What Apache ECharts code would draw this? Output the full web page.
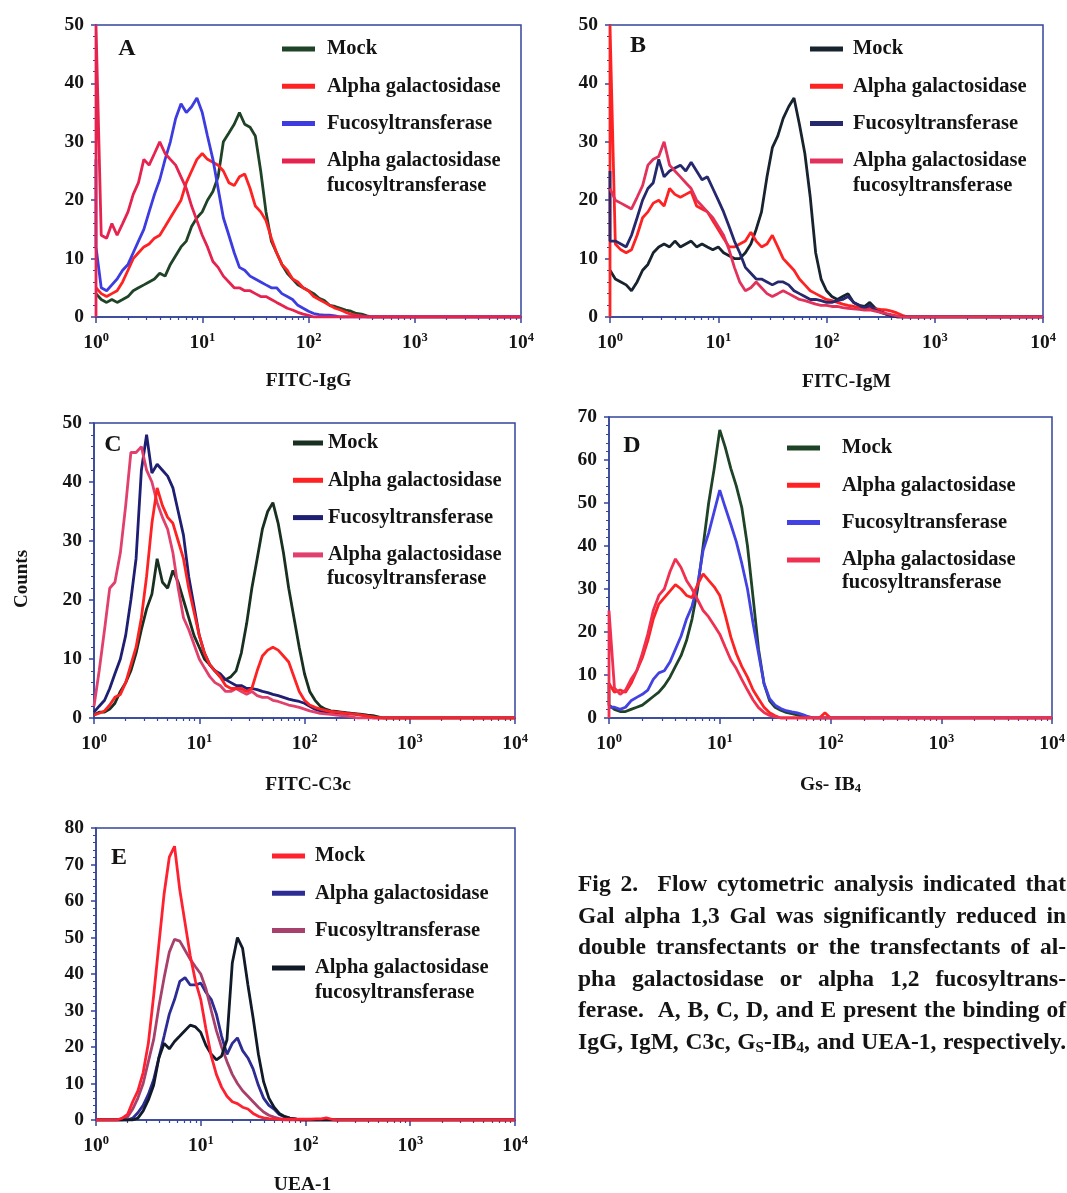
<!DOCTYPE html>
<html><head><meta charset="utf-8">
<script src="https://cdn.jsdelivr.net/npm/echarts@6/dist/echarts.min.js"></script>
<style>html,body{margin:0;padding:0;background:#fff}#chart{width:1067px;height:1193px}</style>
</head><body><div id="chart"></div>
<script>
// ---------- DATA ----------
// channel (fluorescence) positions, shared by all histograms; first entry repeated for the edge spike
const xChannels = [1,
  1, 1.12, 1.26, 1.41, 1.58, 1.78, 2, 2.24, 2.51, 2.82,
  3.16, 3.55, 3.98, 4.47, 5.01, 5.62, 6.31, 7.08, 7.94, 8.91,
  10, 11.2, 12.6, 14.1, 15.8, 17.8, 20, 22.4, 25.1, 28.2,
  31.6, 35.5, 39.8, 44.7, 50.1, 56.2, 63.1, 70.8, 79.4, 89.1,
  100, 112, 126, 141, 158, 178, 200, 224, 251, 282,
  316, 355, 398, 447, 501, 562,
  10000];
const xTickExponents = ['0', '1', '2', '3', '4'];
const legendLabels = ['Mock', 'Alpha galactosidase', 'Fucosyltransferase', 'Alpha galactosidase fucosyltransferase'];

// Panel A: FITC-IgG
const A_mock = [4,
  4, 3, 2.5, 3, 2.5, 3, 3.5, 4.5, 5, 5.5,
  6, 6.5, 7.5, 7, 9, 10.5, 12, 13, 15.5, 17,
  18, 20, 21.5, 24, 30, 31.5, 33, 35, 33, 32.5,
  31, 25, 18, 13, 11, 9, 7.5, 6.5, 5.5, 5,
  4.5, 4, 3.2, 2.8, 2, 1.8, 1.5, 1.2, 1, 0.6,
  0.5, 0.2, 0, 0, 0, 0,
  0];
const A_alpha = [5,
  5, 4, 3.5, 4, 4.5, 6, 8, 10, 11, 12,
  12.5, 13.5, 14, 15.5, 17, 18.5, 20, 23, 25, 27,
  28, 27, 26.5, 26, 25, 23, 22.5, 24, 24.5, 22,
  19, 18, 16.5, 13.5, 11, 9, 8, 6.5, 6, 5,
  4.5, 3.5, 3, 2.5, 2, 1.5, 1.2, 0.8, 0.5, 0.3,
  0.2, 0, 0, 0, 0, 0,
  0];
const A_fuco = [27,
  12, 5, 4.5, 5.5, 6.5, 8, 9, 11, 13, 15,
  18, 21, 23.5, 27, 30, 34, 36.5, 35, 36, 37.5,
  35, 31, 27, 22, 17, 14, 11, 8.5, 8, 7,
  6.5, 6, 5.5, 5, 5, 4, 3.5, 3, 2, 1.5,
  1, 0.6, 0.4, 0.3, 0.3, 0.2, 0, 0, 0, 0,
  0, 0, 0, 0, 0, 0,
  0];
const A_double = [0,
  50, 14, 13.5, 16, 14, 16, 18, 21, 23, 27,
  26, 28, 30, 28, 27, 26, 24, 22, 19, 16.5,
  14, 12, 9.5, 8.5, 7, 6, 5, 5, 4.5, 4.5,
  4, 3.5, 3.5, 3, 2.5, 2, 1.5, 1.2, 0.8, 0.5,
  0.3, 0, 0, 0, 0, 0, 0, 0, 0, 0,
  0, 0, 0, 0, 0, 0,
  0];

// Panel B: FITC-IgM
const B_mock = [8,
  8, 6.5, 6, 5.5, 4.5, 6, 8, 9, 11, 12,
  12.5, 12, 13, 12, 12.5, 13, 12, 12.5, 12, 11.5,
  12, 11, 10.5, 10, 10, 11, 12.5, 15, 18, 24,
  29, 31, 34, 36, 37.5, 33, 28, 20.5, 11, 6.5,
  4.5, 3.5, 3, 3.5, 4, 2.5, 2, 1.8, 2.5, 1.5,
  1, 0.5, 0.3, 0, 0, 0,
  0];
const B_alpha = [0,
  50, 12.5, 11.5, 11, 11.5, 14, 17, 18, 19.5, 20,
  19, 22, 21, 20.5, 21, 21.5, 19, 18.5, 18, 16.5,
  15, 13.5, 12, 12, 12.5, 13, 14.5, 13, 12, 12.5,
  14, 12, 10, 9, 8, 6.5, 5.5, 4.5, 4, 3.5,
  3, 2.8, 2.5, 2.2, 2, 1.8, 1.6, 1.5, 1.5, 1.4,
  1.3, 1.2, 1, 0.7, 0.3, 0,
  0];
const B_fuco = [25,
  13, 13, 12.5, 12, 14, 17, 20, 22, 23, 27,
  24, 25, 25.5, 26, 25, 26.5, 25, 23.5, 24, 22,
  20, 18, 15.5, 13, 11, 8.5, 7.5, 6.5, 6.5, 6,
  5.5, 6, 6, 5.5, 4.5, 4, 3.5, 3, 3, 2.8,
  2.5, 2.5, 2.8, 3, 3.5, 2.5, 2, 1.5, 2, 1.2,
  0.8, 0.5, 0.2, 0, 0, 0,
  0];
const B_double = [22,
  22, 20, 19.5, 19, 18.5, 20.5, 22.5, 26, 27, 27.5,
  30, 26, 25, 24, 23, 22, 20, 19, 18, 17,
  15.5, 14, 11.5, 8.5, 6, 4.5, 5, 6, 5, 4,
  3.5, 4, 4.5, 4, 3.5, 3, 2.8, 2.5, 2.2, 2,
  2, 1.8, 1.8, 1.6, 1.5, 1.4, 1.3, 1.2, 1.2, 1,
  0.8, 0.6, 0.4, 0.2, 0, 0,
  0];

// Panel C: FITC-C3c
const C_mock = [0.5,
  0.5, 1, 1, 1.5, 2.5, 4.5, 6, 8, 11, 15,
  18.5, 21, 27, 23, 22, 25, 23, 20, 17, 14,
  12, 10, 9, 8, 7, 6.5, 7, 8, 11, 16,
  22, 27, 32, 35, 36.5, 33, 28, 22, 17, 12,
  7.5, 4.5, 3, 2, 1.5, 1.2, 1.1, 1, 0.9, 0.8,
  0.7, 0.6, 0.5, 0.4, 0.2, 0,
  0];
const C_alpha = [0.5,
  0.5, 0.8, 1.2, 2.2, 3.5, 4, 6, 9, 12, 17,
  24, 33, 39, 36, 34, 33, 30, 27, 22, 18,
  14, 11, 9, 8, 7, 5.5, 5, 5, 5, 4.5,
  5, 8, 10.5, 11.5, 12, 11.5, 10.5, 9.5, 7, 4.5,
  3, 2.2, 1.8, 1.5, 1.3, 1.1, 1, 0.9, 0.8, 0.7,
  0.6, 0.5, 0.3, 0.2, 0, 0,
  0];
const C_fuco = [1,
  1, 2, 3, 5, 7.5, 10, 14, 20, 27, 42,
  48, 41.5, 43, 42, 41, 39, 35, 31, 24, 19,
  14, 11, 9, 8, 7.5, 6.5, 6, 5.5, 5.5, 5,
  5, 4.8, 4.5, 4.3, 4, 3.8, 3.5, 3.2, 3, 2.8,
  2.5, 2, 1.5, 1.2, 1, 1, 0.9, 0.8, 0.8, 0.7,
  0.6, 0.5, 0.3, 0, 0, 0,
  0];
const C_double = [2,
  2, 8, 15, 22, 23, 28, 36, 45, 45, 46,
  42, 40, 36.5, 34, 32, 28, 22, 17, 15, 12.5,
  10, 8.5, 7, 6, 5.5, 4.5, 4.5, 5, 4.5, 4,
  4.5, 3.8, 3.5, 3.5, 3, 2.8, 2.5, 2.2, 2, 1.8,
  1.5, 1.2, 1, 0.8, 0.7, 0.6, 0.5, 0.4, 0.3, 0.2,
  0, 0, 0, 0, 0, 0,
  0];

// Panel D: Gs-IB4
const D_mock = [8,
  3, 2, 1.5, 1.5, 2, 2.5, 3, 4, 5, 6,
  7.5, 9.5, 12, 14.5, 18, 23, 30, 40, 50, 58,
  67, 63, 58, 54, 49, 40, 28, 16, 8, 4,
  2.5, 1.8, 1.3, 1, 0.7, 0.4, 0.2, 0, 0, 0,
  0, 0, 0, 0, 0, 0, 0, 0, 0, 0,
  0, 0, 0, 0, 0, 0,
  0];
const D_alpha = [8,
  8, 6, 6.5, 6, 8, 11, 14, 18, 23, 26.5,
  28, 29.5, 31, 30, 28.5, 28, 31, 33.5, 32, 30.5,
  28.5, 24, 18.8, 15, 12, 9.5, 6.5, 4.5, 2.5, 1.2,
  0.5, 0, 0, 0, 0, 0, 0, 0, 0, 1.2,
  0, 0, 0, 0, 0, 0, 0, 0, 0, 0,
  0, 0, 0, 0, 0, 0,
  0];
const D_fuco = [2.5,
  2.5, 2.5, 2, 2.5, 4, 4.8, 5.5, 6.5, 9, 10.5,
  11, 13, 16, 19, 23, 26, 31, 39, 43, 48,
  53, 49, 45, 41, 36, 30, 22, 15, 8, 4.5,
  3, 2.2, 1.7, 1.4, 1.2, 0.8, 0.3, 0, 0, 0,
  0, 0, 0, 0, 0, 0, 0, 0, 0, 0,
  0, 0, 0, 0, 0, 0,
  0];
const D_double = [0,
  25, 7, 5.5, 6.5, 9, 11, 15, 19.5, 25, 28.5,
  30, 34, 37, 35, 32, 30, 27.5, 25, 23.5, 21.5,
  19.5, 16.5, 13.5, 11.5, 9, 6.5, 4.2, 2.4, 1.3, 0.6,
  0.3, 0, 0, 0, 0, 0, 0, 0, 0, 0,
  0, 0, 0, 0, 0, 0, 0, 0, 0, 0,
  0, 0, 0, 0, 0, 0,
  0];

// Panel E: UEA-1
const E_mock = [0,
  0, 0, 0, 0, 0, 0.5, 1.5, 5, 8, 13,
  21, 34, 48, 62, 72, 75, 63, 54, 45, 38,
  33, 25, 17.5, 12.5, 9, 6.5, 5, 4.5, 3.5, 3,
  1.8, 1, 0.6, 0.4, 0.3, 0.2, 0.2, 0.2, 0.2, 0.2,
  0.2, 0.2, 0.3, 0.3, 0.6, 0.2, 0, 0, 0, 0,
  0, 0, 0, 0, 0, 0,
  0];
const E_alpha = [0,
  0, 0, 0, 0, 0, 0, 0, 0.5, 2, 4,
  7, 11, 17, 23, 29, 33, 38, 39, 37, 37,
  37.5, 35, 33, 29, 23, 18, 21, 22.5, 19, 17,
  14, 9.5, 6, 4, 3, 1.5, 0.8, 0.5, 0.3, 0,
  0, 0, 0, 0, 0, 0, 0, 0, 0, 0,
  0, 0, 0, 0, 0, 0,
  0];
const E_fuco = [0,
  0, 0, 0, 0, 0, 0, 0.8, 3, 6, 10,
  16, 22, 31, 39, 46, 49.5, 49, 46.5, 44, 42,
  40, 36, 30, 24.5, 20, 16, 12.5, 10, 8, 6.5,
  5, 3.5, 2.2, 1.3, 0.8, 0.4, 0, 0, 0, 0,
  0, 0, 0, 0, 0, 0, 0, 0, 0, 0,
  0, 0, 0, 0, 0, 0,
  0];
const E_double = [0,
  0, 0, 0, 0, 0, 0, 0, 0, 0.5, 2.5,
  5.5, 9.5, 17, 21, 19.5, 21.5, 23, 24.5, 26, 25.5,
  24, 20.5, 18, 16.5, 17.5, 22, 43, 50, 47, 37,
  28, 18, 10.5, 6, 3.5, 1.8, 1, 0.5, 0.3, 0,
  0, 0, 0, 0, 0, 0, 0, 0, 0, 0,
  0, 0, 0, 0, 0, 0,
  0];

const captionLines = [
  'Fig 2.  Flow cytometric analysis indicated that',
  'Gal alpha 1,3 Gal was significantly reduced in',
  'double transfectants or the transfectants of al-',
  'pha galactosidase or alpha 1,2 fucosyltrans-',
  'ferase.  A, B, C, D, and E present the binding of',
  'IgG, IgM, C3c, G_S-IB_4, and UEA-1, respectively.'
];

// ---------- LAYOUT / STYLE ----------
const FONT = '"Liberation Serif", "Times New Roman", serif';
const NAVY = '#33449a';
const TXT = '#141414';
const LEG_SIZE = 20.5;

const panels = [
  { key: 'A', values: [A_mock, A_alpha, A_fuco, A_double], order: [0, 1, 2, 3],
    colors: ['#1f4326', '#ff2222', '#3c3ce0', '#e6224e'],
    grid: { left: 96, top: 25, width: 425, height: 292 }, yMax: 50, yMinor: 5,
    axisName: 'FITC-IgG', nameGap: 54, namePad: [0, 0, 0, 0],
    legend: { left: 282, top: 38, iconW: 33, textPad: 7 }, second: [327, 186], letter: [127, 49] },
  { key: 'B', values: [B_mock, B_alpha, B_fuco, B_double], order: [0, 1, 2, 3],
    colors: ['#17232e', '#ff2222', '#26286e', '#e2325c'],
    grid: { left: 610, top: 25, width: 433, height: 292 }, yMax: 50, yMinor: 5,
    axisName: 'FITC-IgM', nameGap: 55, namePad: [0, 0, 0, 40],
    legend: { left: 810, top: 38, iconW: 33, textPad: 5 }, second: [853, 186], letter: [638, 46] },
  { key: 'C', values: [C_mock, C_alpha, C_fuco, C_double], order: [0, 2, 3, 1],
    colors: ['#18301f', '#ff2222', '#1e1e72', '#e2406c'],
    grid: { left: 94, top: 423, width: 421, height: 295 }, yMax: 50, yMinor: 5,
    axisName: 'FITC-C3c', nameGap: 57, namePad: [0, 0, 0, 7],
    legend: { left: 293, top: 432, iconW: 30, textPad: 0 }, second: [327, 579], letter: [113, 445] },
  { key: 'D', values: [D_mock, D_alpha, D_fuco, D_double], order: [0, 2, 1, 3],
    colors: ['#1f4326', '#ff2222', '#4242e2', '#f03050'],
    grid: { left: 609, top: 417, width: 443, height: 301 }, yMax: 70, yMinor: 5,
    axisName: '{n|Gs- IB}{sub|4}', nameGap: 57, namePad: [0, 0, 0, 0],
    legend: { left: 787, top: 437, iconW: 33, textPad: 17 }, second: [842, 583], letter: [632, 446] },
  { key: 'E', values: [E_mock, E_alpha, E_fuco, E_double], order: [1, 2, 3, 0],
    colors: ['#ff2030', '#2c2c92', '#a8406c', '#101a28'],
    grid: { left: 96, top: 828, width: 419, height: 292 }, yMax: 80, yMinor: 5,
    axisName: 'UEA-1', nameGap: 55, namePad: [0, 6, 0, 0],
    legend: { left: 272, top: 845, iconW: 33, textPad: 5 }, second: [315, 993], letter: [119, 858] }
];

const minorTickValues = [];
[1, 10, 100, 1000].forEach(d => { for (let m = 2; m <= 9; m++) minorTickValues.push(d * m); });

const boldText = (size) => ({ fontFamily: FONT, fontWeight: 'bold', fontSize: size, color: TXT });

const grids = [], xAxes = [], yAxes = [], legends = [], series = [], graphics = [];
panels.forEach((p, k) => {
  grids.push(Object.assign({}, p.grid, { show: true, borderColor: NAVY, borderWidth: 1.5,
    backgroundColor: 'transparent', containLabel: false, outerBoundsMode: 'none' }));
  xAxes.push({
    type: 'log', logBase: 10, min: 1, max: 10000, gridIndex: k, position: 'bottom',
    axisLine: { show: true, lineStyle: { color: NAVY, width: 1.5 } },
    axisTick: { show: true, length: 6, lineStyle: { color: NAVY, width: 1.5 } },
    splitLine: { show: false },
    axisLabel: {
      margin: 14,
      formatter: v => '{b|10}{s|' + xTickExponents[Math.round(Math.log10(v))] + '}',
      rich: {
        b: Object.assign(boldText(19.5), { lineHeight: 24 }),
        s: Object.assign(boldText(12.5), { lineHeight: 12, verticalAlign: 'top' })
      }
    },
    name: p.axisName, nameLocation: 'middle', nameGap: p.nameGap,
    nameTextStyle: Object.assign(boldText(19.5), {
      padding: p.namePad,
      rich: {
        n: boldText(19.5),
        sub: Object.assign(boldText(12.5), { verticalAlign: 'bottom' })
      }
    })
  });
  xAxes.push({
    type: 'log', logBase: 10, min: 1, max: 10000, gridIndex: k, position: 'bottom',
    axisLine: { show: false }, axisLabel: { show: false }, splitLine: { show: false },
    axisTick: { show: true, length: 3, customValues: minorTickValues, lineStyle: { color: NAVY, width: 1.2 } }
  });
  yAxes.push({
    type: 'value', gridIndex: k, min: 0, max: p.yMax, interval: 10,
    axisLine: { show: true, lineStyle: { color: NAVY, width: 1.5 } },
    axisTick: { show: true, length: 5, lineStyle: { color: NAVY, width: 1.5 } },
    minorTick: { show: true, splitNumber: p.yMinor, length: 3, lineStyle: { color: NAVY, width: 1 } },
    splitLine: { show: false },
    axisLabel: Object.assign(boldText(19.5), { margin: 12 })
  });
  const names = legendLabels.map((l, i) => p.key + '|' + i);
  legends.push({
    data: names, orient: 'vertical', left: p.legend.left, top: p.legend.top, padding: 0,
    itemWidth: p.legend.iconW, itemHeight: 5, itemGap: 15.3, icon: 'rect', selectedMode: false,
    formatter: name => {
      const i = +name.split('|')[1];
      return i === 3 ? 'Alpha galactosidase' : legendLabels[i];
    },
    textStyle: Object.assign(boldText(LEG_SIZE), { lineHeight: 22, padding: [0, 0, 0, p.legend.textPad] })
  });
  p.order.forEach(i => {
    series.push({
      type: 'line', name: names[i], xAxisIndex: 2 * k, yAxisIndex: k,
      data: xChannels.map((x, j) => [x, p.values[i][j]]),
      showSymbol: false, symbol: 'none', smooth: false,
      lineStyle: { color: p.colors[i], width: 2.8 }, itemStyle: { color: p.colors[i] },
      z: 3
    });
  });
  graphics.push({ type: 'text', x: p.second[0], y: p.second[1], silent: true,
    style: { text: 'fucosyltransferase', font: 'bold ' + LEG_SIZE + 'px ' + FONT, fill: TXT,
      align: 'left', verticalAlign: 'middle', textAlign: 'left', textVerticalAlign: 'middle' } });
  graphics.push({ type: 'text', x: p.letter[0], y: p.letter[1], silent: true,
    style: { text: p.key, font: 'bold 24px ' + FONT, fill: TXT,
      align: 'center', verticalAlign: 'middle', textAlign: 'center', textVerticalAlign: 'middle' } });
});

graphics.push({ type: 'text', x: 22, y: 579, rotation: Math.PI / 2, silent: true,
  style: { text: 'Counts', font: 'bold 19px ' + FONT, fill: TXT,
    align: 'center', verticalAlign: 'middle', textAlign: 'center', textVerticalAlign: 'middle' } });

// caption, justified word by word
const ctx = document.createElement('canvas').getContext('2d');
function measure(t, size) { ctx.font = 'bold ' + size + 'px "Liberation Serif"'; return ctx.measureText(t).width; }
function wordPieces(w) {
  const pieces = []; let buf = '';
  for (let i = 0; i < w.length; i++) {
    if (w[i] === '_' && i + 1 < w.length) {
      if (buf) pieces.push([buf, false]); buf = '';
      pieces.push([w[i + 1], true]); i++;
    } else buf += w[i];
  }
  if (buf) pieces.push([buf, false]);
  return pieces;
}
const capX = 578, capW = 488, capY0 = 885, capStep = 31.6;
// choose the font size so that the widest line fits the column at natural spacing
const lineNaturalWidth = (line, size) => {
  const words = line.split(' ');
  const ws = words.reduce((s, w) => s + wordPieces(w).reduce((t, pc) => t + measure(pc[0], pc[1] ? size * 0.65 : size), 0), 0);
  return ws + (words.length - 1) * measure(' ', size);
};
let capSize = 40;
captionLines.forEach(line => { capSize = Math.min(capSize, 20 * capW / lineNaturalWidth(line, 20)); });
capSize = Math.floor(capSize * 4) / 4;
const subSize = Math.round(capSize * 0.65);
captionLines.forEach((line, li) => {
  const words = line.split(' ');
  const widths = words.map(w => wordPieces(w).reduce((s, pc) => s + measure(pc[0], pc[1] ? subSize : capSize), 0));
  const total = widths.reduce((a, b) => a + b, 0);
  const gap = (capW - total) / (words.length - 1);
  let x = capX;
  words.forEach((w, wi) => {
    if (w.length) {
      const pcs = wordPieces(w);
      const rich = pcs.map(pc => '{' + (pc[1] ? 's' : 'n') + '|' + pc[0] + '}').join('');
      graphics.push({ type: 'text', x: x, y: capY0 + li * capStep, silent: true,
        style: { text: rich, fill: TXT, align: 'left', verticalAlign: 'middle', textAlign: 'left', textVerticalAlign: 'middle',
          rich: { n: { fontFamily: FONT, fontWeight: 'bold', fontSize: capSize, fill: TXT, lineHeight: 26 },
                  s: { fontFamily: FONT, fontWeight: 'bold', fontSize: subSize, fill: TXT, lineHeight: 14, verticalAlign: 'bottom' } } } });
    }
    x += widths[wi] + gap;
  });
});

const chart = echarts.init(document.getElementById('chart'), null, { renderer: 'canvas' });
chart.setOption({
  backgroundColor: '#ffffff', animation: false,
  grid: grids, xAxis: xAxes, yAxis: yAxes, legend: legends, series: series, graphic: graphics
});
</script></body></html>
